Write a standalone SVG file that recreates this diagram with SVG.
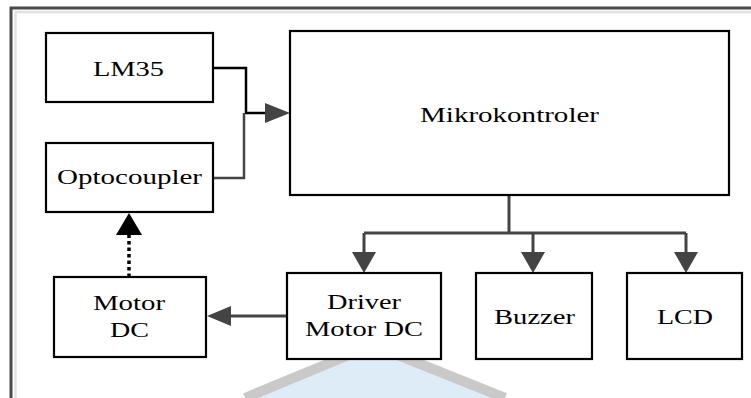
<svg xmlns="http://www.w3.org/2000/svg" width="751" height="398" viewBox="0 0 751 398">
<style>
.box{fill:#fff;stroke:#000;stroke-width:2.2}
.t{font-family:"Liberation Serif","Times New Roman",serif;fill:#000}
.c{fill:none;stroke:#444;stroke-width:3}
</style>
<defs>
<marker id="ah" markerWidth="8" markerHeight="8" refX="7.5" refY="4" orient="auto" markerUnits="userSpaceOnUse" viewBox="0 0 8 8">
<path d="M0,0 L8,4 L0,8 z" fill="#444"/>
</marker>
</defs>
<rect width="751" height="398" fill="#fff"/>
<g id="frame">
<path d="M11,398 V8 H751" fill="none" stroke="#4a4a4a" stroke-width="3"/>
<path d="M15.5,398 V12 H751" fill="none" stroke="#e2e2e2" stroke-width="2.5"/>
</g>
<g id="watermark" opacity="0.35">
<path d="M373,345 L505,398 L245,398 z" fill="#9fc9e6"/>
<path d="M373,345 L505,398 M373,345 L245,398" fill="none" stroke="#666" stroke-width="10"/>
</g>
<g id="connectors">
<path d="M213,68 H246 V113 H270" fill="none" stroke="#000" stroke-width="2.5"/>
<path d="M213,178 H244 V113" fill="none" stroke="#444" stroke-width="2.5"/>
<path d="M265,103 L290,113 L265,123 z" fill="#444"/>
<path class="c" d="M509,195 V233"/>
<path class="c" d="M364,233 H686"/>
<path class="c" d="M364,233 V255"/>
<path class="c" d="M533,233 V255"/>
<path class="c" d="M686,233 V255"/>
<path d="M352,252 L364,273 L376,252 z" fill="#444"/>
<path d="M521,252 L533,273 L545,252 z" fill="#444"/>
<path d="M674,252 L686,273 L698,252 z" fill="#444"/>
<path class="c" d="M287,316 H228"/>
<path d="M231,306 L207,316 L231,326 z" fill="#444"/>
<path d="M129,277 V233" fill="none" stroke="#000" stroke-width="3.5" stroke-dasharray="3.5,3"/>
<path d="M116,235 L129,213 L142,235 z" fill="#000"/>
</g>
<g id="lm35">
<rect class="box" x="46" y="33" width="167" height="69"/>
<text class="t" x="93" y="76" font-size="20" textLength="71" lengthAdjust="spacingAndGlyphs">LM35</text>
</g>
<g id="optocoupler">
<rect class="box" x="46" y="143" width="167" height="69"/>
<text class="t" x="57" y="184" font-size="20" textLength="145" lengthAdjust="spacingAndGlyphs">Optocoupler</text>
</g>
<g id="mikrokontroler">
<rect class="box" x="290" y="31" width="439" height="164"/>
<text class="t" x="420" y="122" font-size="20" textLength="179" lengthAdjust="spacingAndGlyphs">Mikrokontroler</text>
</g>
<g id="motordc">
<rect class="box" x="54" y="277" width="152" height="80"/>
<text class="t" x="93" y="310" font-size="21" textLength="72" lengthAdjust="spacingAndGlyphs">Motor</text>
<text class="t" x="110" y="337" font-size="21" textLength="39" lengthAdjust="spacingAndGlyphs">DC</text>
</g>
<g id="driver">
<rect class="box" x="287" y="273" width="154" height="86"/>
<text class="t" x="327" y="309" font-size="21" textLength="74" lengthAdjust="spacingAndGlyphs">Driver</text>
<text class="t" x="305" y="336" font-size="21" textLength="118" lengthAdjust="spacingAndGlyphs">Motor DC</text>
</g>
<g id="buzzer">
<rect class="box" x="476" y="273" width="116" height="86"/>
<text class="t" x="494" y="324" font-size="21" textLength="81" lengthAdjust="spacingAndGlyphs">Buzzer</text>
</g>
<g id="lcd">
<rect class="box" x="627" y="273" width="115" height="86"/>
<text class="t" x="657" y="324" font-size="21" textLength="56" lengthAdjust="spacingAndGlyphs">LCD</text>
</g>
</svg>
